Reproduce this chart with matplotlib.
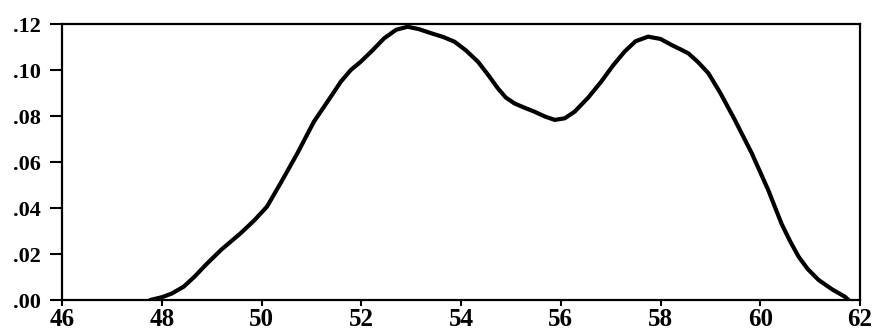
import matplotlib
matplotlib.use("Agg")
import matplotlib.pyplot as plt
from matplotlib.ticker import FixedLocator, FuncFormatter

# Kernel density estimate, read as (x, density) pairs
x_vals = [47.77, 48.00, 48.20, 48.44, 48.65, 48.91, 49.20, 49.58, 49.85, 50.11,
          50.38, 50.72, 51.05, 51.39, 51.59, 51.79, 51.99, 52.20, 52.46, 52.70,
          52.93, 53.15, 53.40, 53.65, 53.87, 54.10, 54.34, 54.54, 54.74, 54.90,
          55.07, 55.25, 55.47, 55.68, 55.88, 56.08, 56.28, 56.55, 56.81, 57.05,
          57.28, 57.50, 57.75, 58.00, 58.22, 58.40, 58.56, 58.75, 58.96, 59.20,
          59.49, 59.83, 60.16, 60.43, 60.60, 60.77, 60.95, 61.17, 61.45, 61.70,
          61.77]
density = [0.0000, 0.0012, 0.0028, 0.0058, 0.0100, 0.0159, 0.0220, 0.0290, 0.0345, 0.0406,
           0.0507, 0.0638, 0.0775, 0.0884, 0.0949, 0.1000, 0.1036, 0.1080, 0.1138, 0.1175,
           0.1188, 0.1178, 0.1160, 0.1143, 0.1123, 0.1085, 0.1036, 0.0980, 0.0920, 0.0880,
           0.0855, 0.0838, 0.0819, 0.0798, 0.0783, 0.0790, 0.0819, 0.0880, 0.0949, 0.1020,
           0.1080, 0.1125, 0.1145, 0.1135, 0.1109, 0.1090, 0.1072, 0.1035, 0.0986, 0.0900,
           0.0783, 0.0638, 0.0478, 0.0330, 0.0255, 0.0188, 0.0135, 0.0087, 0.0045, 0.0014,
           0.0000]

x_ticks = [46, 48, 50, 52, 54, 56, 58, 60, 62]
y_ticks = [0.00, 0.02, 0.04, 0.06, 0.08, 0.10, 0.12]

fig = plt.figure(figsize=(8.74, 3.32), dpi=100)
ax = fig.add_axes([62 / 874, 1 - 300 / 332, (860 - 62) / 874, (300 - 24) / 332])

ax.plot(x_vals, density, color="black", linewidth=3.0, solid_capstyle="round",
        solid_joinstyle="round", antialiased=True)

ax.set_xlim(46, 62)
ax.set_ylim(0, 0.12)

ax.xaxis.set_major_locator(FixedLocator(x_ticks))
ax.yaxis.set_major_locator(FixedLocator(y_ticks))
ax.yaxis.set_major_formatter(FuncFormatter(lambda v, _: f"{v:.2f}".lstrip("0")))

for s in ax.spines.values():
    s.set_linewidth(1.6)
    s.set_color("black")

ax.tick_params(axis="x", direction="out", length=4, width=1.5, pad=2,
               top=False, labelsize=18)
ax.tick_params(axis="y", direction="out", length=8.5, width=1.5, pad=7,
               right=False, labelsize=16)

for lab in ax.get_xticklabels() + ax.get_yticklabels():
    lab.set_fontfamily("Liberation Serif")
    lab.set_fontweight("bold")

fig.savefig("out.png", dpi=100, facecolor="white")
